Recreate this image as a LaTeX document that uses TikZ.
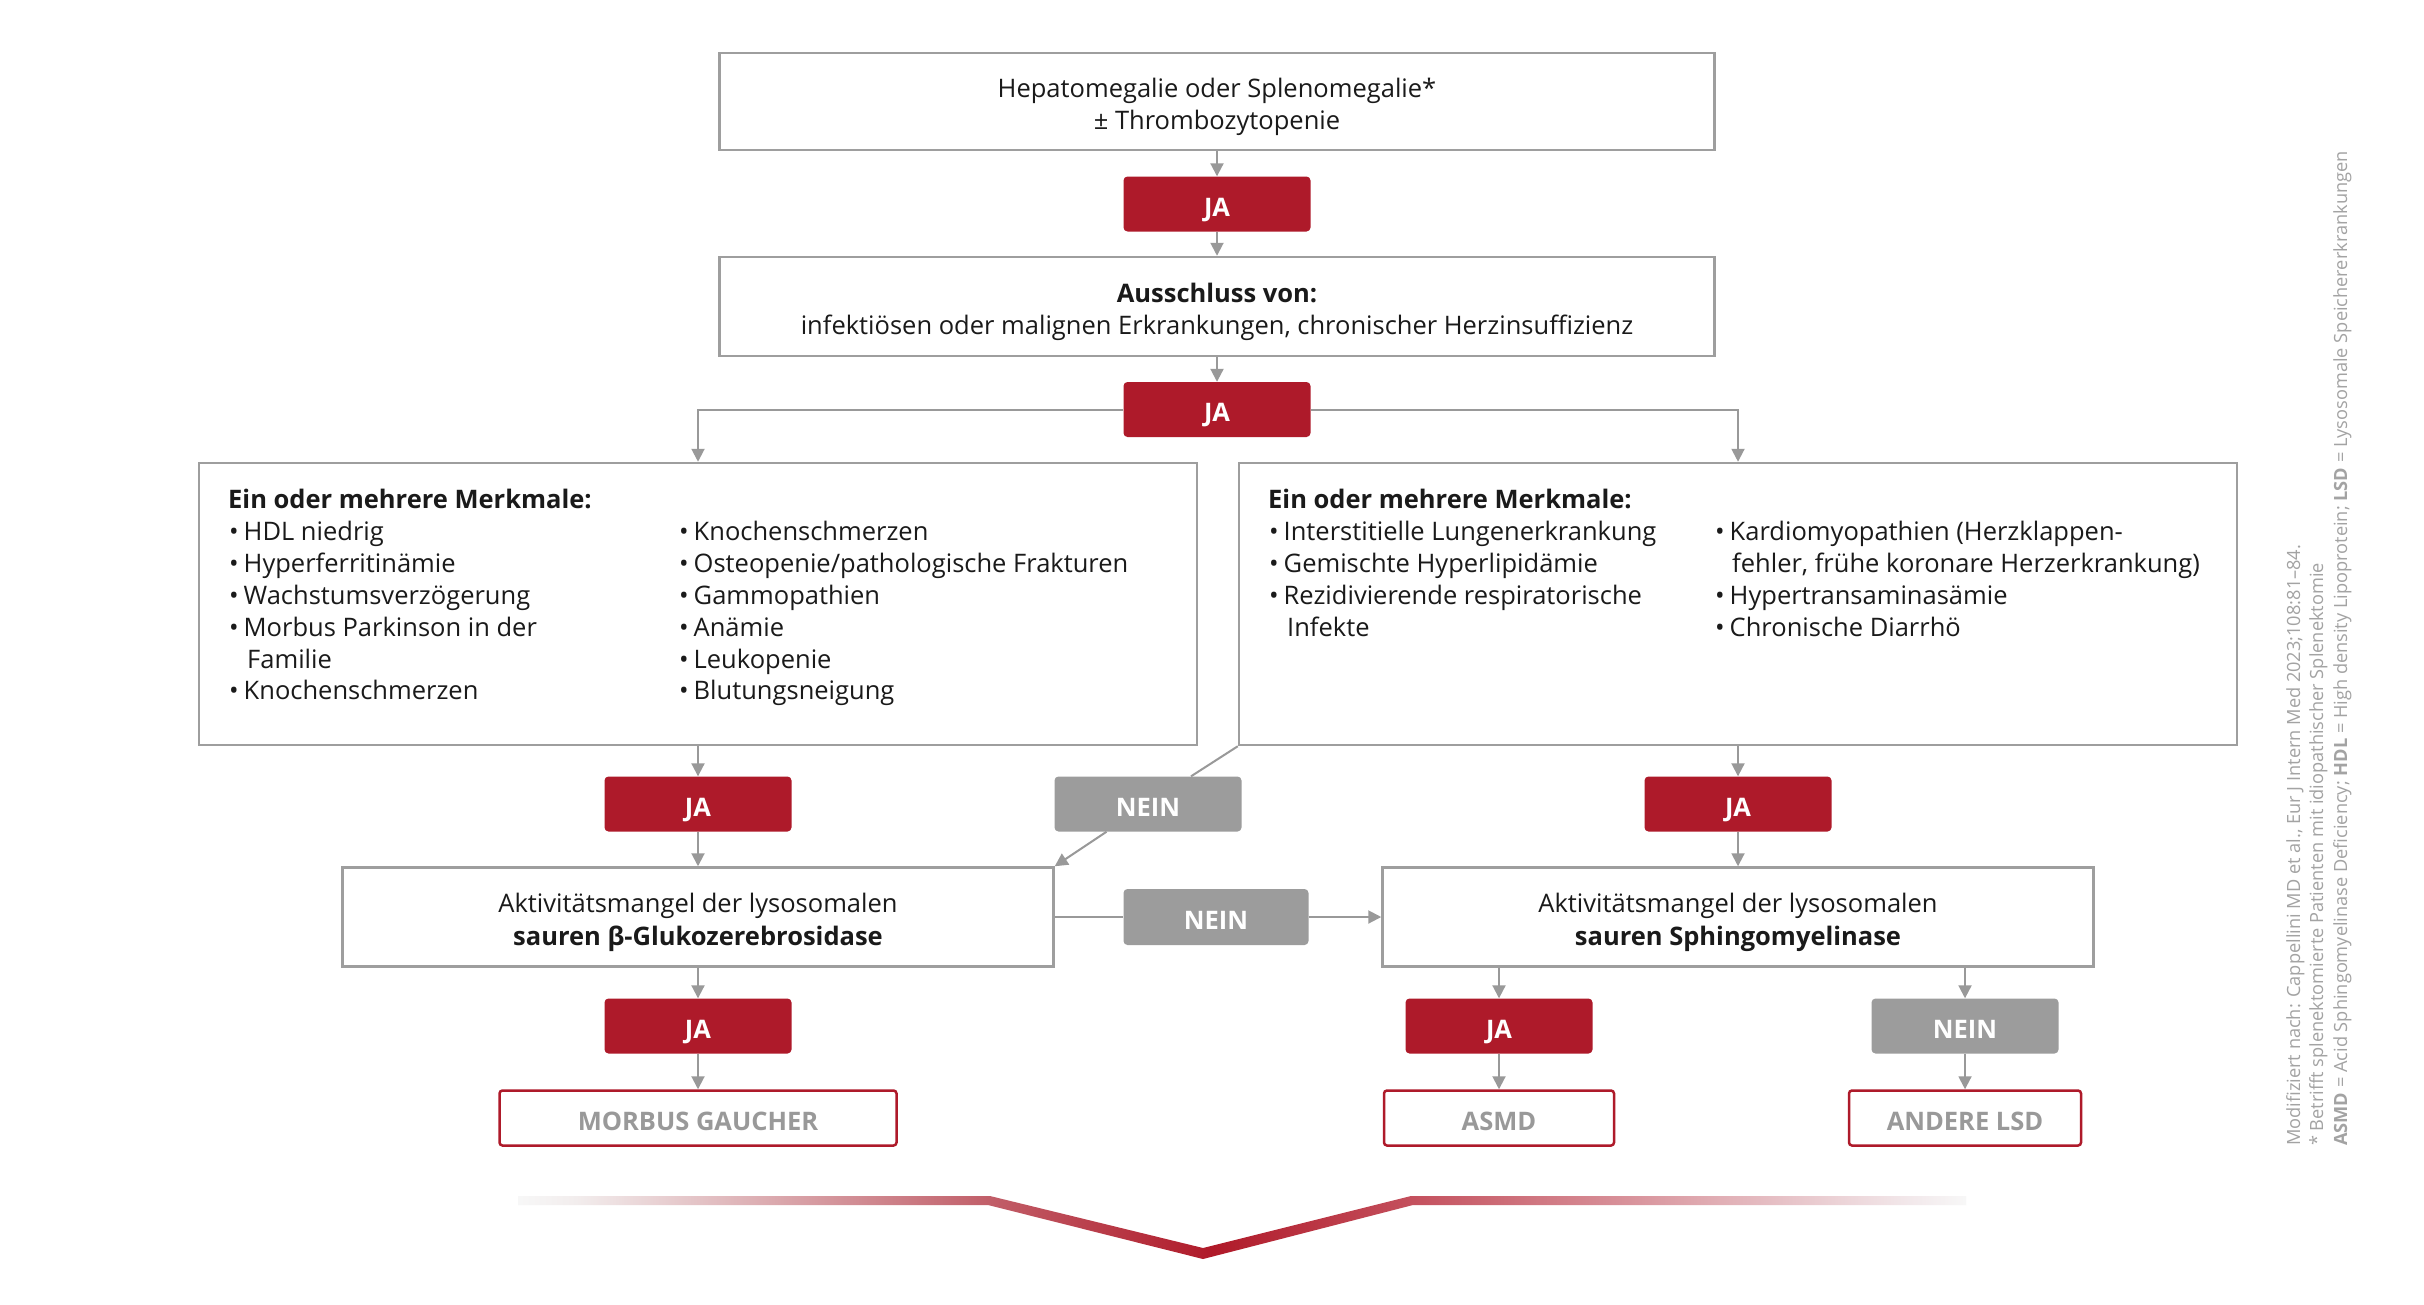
\documentclass[tikz,border=0pt]{standalone}
\usepackage{fontspec}
\setmainfont{Open Sans}
\usetikzlibrary{arrows.meta}
\definecolor{jared}{HTML}{AE1A2A}
\definecolor{neingray}{HTML}{9C9C9C}
\definecolor{boxgray}{HTML}{9E9E9E}
\definecolor{arrgray}{HTML}{999999}
\definecolor{notegray}{HTML}{A3A3A3}
\definecolor{txt}{HTML}{1A1A1A}
\newcommand\mybul{\makebox[14.5pt][l]{•}}
\newcommand\lift{\rule{0pt}{30.5pt}}
\pgfdeclarehorizontalshading{chevshade}{100bp}{rgb(0bp)=(0.97,0.97,0.97); rgb(25bp)=(0.97,0.97,0.97); rgb(27bp)=(0.95,0.93,0.93); rgb(41bp)=(0.76,0.38,0.42); rgb(49bp)=(0.69,0.10,0.16); rgb(56bp)=(0.77,0.32,0.37); rgb(73bp)=(0.95,0.91,0.92); rgb(75bp)=(0.97,0.97,0.97); rgb(100bp)=(0.97,0.97,0.97)}
\tikzset{
 mainbox/.style={draw=boxgray, line width=2.5pt, fill=white, inner sep=0pt, align=center, font=\fontsize{25.5}{32.5}\selectfont, text=txt},
 jabox/.style={fill=jared, rounded corners=4pt, minimum width=187pt, minimum height=55pt, inner sep=0pt, text=white, text height=24pt, text depth=0pt, font=\bfseries\fontsize{25.5}{30}\selectfont},
 neinbox/.style={jabox, fill=neingray},
 endbox/.style={draw=jared, line width=2.5pt, fill=white, rounded corners=3pt, minimum height=55pt, inner sep=0pt, text=arrgray, text height=24pt, text depth=0pt, font=\bfseries\fontsize{25.5}{30}\selectfont},
 arr/.style={draw=arrgray, line width=2pt, -{Triangle[length=13pt,width=13pt]}},
 conn/.style={draw=arrgray, line width=2pt},
 listtxt/.style={anchor=base west, inner sep=0pt, font=\fontsize{25.5}{31}\selectfont, text=txt},
 note/.style={rotate=90, anchor=base west, inner sep=0pt, font=\fontsize{18.2}{21}\selectfont, text=notegray},
}
\begin{document}
\begin{tikzpicture}[x=1pt, y=-1pt]
\useasboundingbox (0,0) rectangle (2424,1304);
\fill[white] (0,0) rectangle (2424,1304);

% main boxes
\node[mainbox, minimum width=995pt, minimum height=97pt] (top) at (1217,101.5) {\lift Hepatomegalie oder Splenomegalie*\\± Thrombozytopenie};
\node[jabox] (ja1) at (1217,204) {JA};
\node[mainbox, minimum width=995pt, minimum height=99pt] (excl) at (1217,306.5) {\lift\textbf{Ausschluss von:}\\infektiösen oder malignen Erkrankungen, chronischer Herzinsuffizienz};
\node[jabox] (ja2) at (1217,409.5) {JA};
\node[mainbox, minimum width=998pt, minimum height=282pt] (lb) at (698,604) {};
\node[mainbox, minimum width=998pt, minimum height=282pt] (rb) at (1738,604) {};
\node[jabox] (jaL) at (698,804) {JA};
\node[neinbox] (n1) at (1148,804) {NEIN};
\node[jabox] (jaR) at (1738,804) {JA};
\node[mainbox, minimum width=711pt, minimum height=99pt] (gl) at (698,917) {\lift Aktivitätsmangel der lysosomalen\\\textbf{sauren β-Glukozerebrosidase}};
\node[neinbox, minimum width=185pt, minimum height=56pt] (n2) at (1216,917) {NEIN};
\node[mainbox, minimum width=711pt, minimum height=99pt] (sp) at (1738,917) {\lift Aktivitätsmangel der lysosomalen\\\textbf{sauren Sphingomyelinase}};
\node[jabox] (jaG) at (698,1026) {JA};
\node[jabox] (jaS) at (1499,1026) {JA};
\node[neinbox] (n3) at (1965,1026) {NEIN};
\node[endbox, minimum width=397pt] (mg) at (698,1118) {MORBUS GAUCHER};
\node[endbox, minimum width=230pt] (asmd) at (1499,1118) {ASMD};
\node[endbox, minimum width=232pt] (lsd) at (1965,1118) {ANDERE LSD};

% left list
\node[listtxt] (lt) at (228,508) {\textbf{Ein oder mehrere Merkmale:}};
\node[listtxt] (l1) at (229,540) {\mybul HDL niedrig};
\node[listtxt] (l2) at (229,572) {\mybul Hyperferritinämie};
\node[listtxt] (l3) at (229,604) {\mybul Wachstumsverzögerung};
\node[listtxt] (l4) at (229,636) {\mybul Morbus Parkinson in der};
\node[listtxt] (l5) at (247,668) {Familie};
\node[listtxt] (l6) at (229,699) {\mybul Knochenschmerzen};
\node[listtxt] (m1) at (679,540) {\mybul Knochenschmerzen};
\node[listtxt] (m2) at (679,572) {\mybul Osteopenie/pathologische Frakturen};
\node[listtxt] (m3) at (679,604) {\mybul Gammopathien};
\node[listtxt] (m4) at (679,636) {\mybul Anämie};
\node[listtxt] (m5) at (679,668) {\mybul Leukopenie};
\node[listtxt] (m6) at (679,699) {\mybul Blutungsneigung};

% right list
\node[listtxt] (rt) at (1268,508) {\textbf{Ein oder mehrere Merkmale:}};
\node[listtxt] (r1) at (1269,540) {\mybul Interstitielle Lungenerkrankung};
\node[listtxt] (r2) at (1269,572) {\mybul Gemischte Hyperlipidämie};
\node[listtxt] (r3) at (1269,604) {\mybul Rezidivierende respiratorische};
\node[listtxt] (r4) at (1287,636) {Infekte};
\node[listtxt] (s1) at (1715,540) {\mybul Kardiomyopathien (Herzklappen-};
\node[listtxt] (s2) at (1732,572) {fehler, frühe koronare Herzerkrankung)};
\node[listtxt] (s3) at (1715,604) {\mybul Hypertransaminasämie};
\node[listtxt] (s4) at (1715,636) {\mybul Chronische Diarrhö};

% connectors
\draw[arr] (top) -- (ja1);
\draw[arr] (ja1) -- (excl);
\draw[arr] (excl) -- (ja2);
\draw[arr] (ja2.west) -| (lb.north);
\draw[arr] (ja2.east) -| (rb.north);
\draw[arr] (lb) -- (jaL);
\draw[arr] (jaL) -- (gl);
\draw[conn] (rb.south west) -- (n1);
\draw[arr] (n1) -- (gl.north east);
\draw[arr] (rb) -- (jaR);
\draw[arr] (jaR) -- (sp);
\draw[conn] (gl) -- (n2);
\draw[arr] (n2) -- (sp);
\draw[arr] (gl) -- (jaG);
\draw[arr] (jaG) -- (mg);
\draw[arr] (sp.south -| jaS) -- (jaS);
\draw[arr] (jaS) -- (asmd);
\draw[arr] (sp.south -| n3) -- (n3);
\draw[arr] (n3) -- (lsd);

% chevron
\shade[shading=chevshade] (518,1196) -- (990,1196) -- (1203,1248) -- (1411,1196) -- (1966,1196) -- (1966,1205) -- (1413,1205) -- (1203,1259) -- (988,1205) -- (518,1205) -- cycle;

% notes
\node[note] (nt1) at (2300,1146) {Modifiziert nach: Cappellini MD et al., Eur J Intern Med 2023;108:81–84.};
\node[note] (nt2) at (2323,1146) {* Betrifft splenektomierte Patienten mit idiopathischer Splenektomie};
\node[note] (nt3) at (2347,1146) {\textbf{ASMD} = Acid Sphingomyelinase Deficiency; \textbf{HDL} = High density Lipoprotein; \textbf{LSD} = Lysosomale Speichererkrankungen};
\end{tikzpicture}
\end{document}
